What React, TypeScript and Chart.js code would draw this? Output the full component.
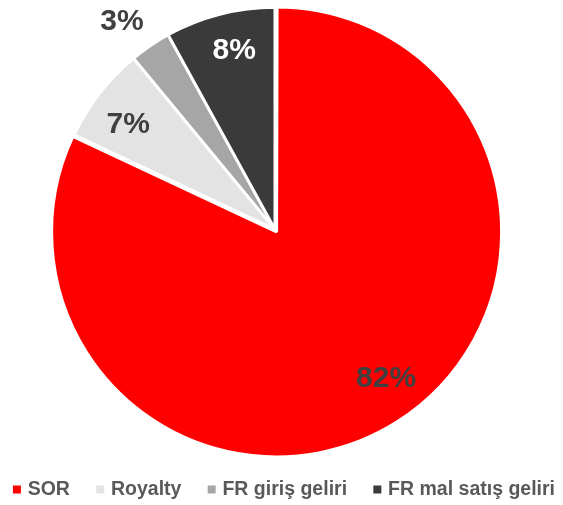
import React, { useEffect, useRef } from "react";
import { Chart, registerables } from "chart.js";

Chart.register(...registerables);

const categories = ["SOR", "Royalty", "FR giriş geliri", "FR mal satış geliri"];
const values = [82, 7, 3, 8];
const colors = ["#FF0000", "#E3E3E3", "#A6A6A6", "#3A3A3A"];
const labelColors = ["#404040", "#404040", "#404040", "#FFFFFF"];
// label placement (style): radial ratio and angular nudge in degrees
const labelRatios = [0.78, 0.815, 1.167, 0.83];
const labelNudges = [-4.8, -2, -2, 1.6];
const offsets = [12, 0, 0, 0];

const FONT = "'Liberation Sans', Arial, sans-serif";
const SHIFT = 13; // canvas is wider than the window and shifted left
const LEGEND_PAD = 29.3;

const labelPlugin = {
  id: "sliceLabels",
  afterDatasetsDraw(chart: any) {
    const ctx = chart.ctx;
    const meta = chart.getDatasetMeta(0);
    const data = chart.data.datasets[0].data as number[];
    const total = data.reduce((a, b) => a + b, 0);
    ctx.save();
    ctx.font = `bold 30px ${FONT}`;
    ctx.textAlign = "center";
    ctx.textBaseline = "middle";
    meta.data.forEach((arc: any, i: number) => {
      const p = arc.getProps(["x", "y", "startAngle", "endAngle", "outerRadius"], true);
      const mid = (p.startAngle + p.endAngle) / 2;
      const off = offsets[i] || 0;
      const cx = p.x + Math.cos(mid) * off;
      const cy = p.y + Math.sin(mid) * off;
      const a = mid + (labelNudges[i] * Math.PI) / 180;
      const r = p.outerRadius * labelRatios[i];
      const pct = Math.round((data[i] / total) * 100) + "%";
      ctx.fillStyle = labelColors[i];
      ctx.fillText(pct, cx + Math.cos(a) * r, cy + Math.sin(a) * r + 1);
    });
    ctx.restore();
  },
};

export default function App() {
  const ref = useRef<HTMLCanvasElement | null>(null);
  useEffect(() => {
    if (!ref.current) return;
    const chart = new Chart(ref.current, {
      type: "pie",
      data: {
        labels: categories,
        datasets: [
          {
            data: values,
            backgroundColor: colors,
            borderColor: "#FFFFFF",
            borderWidth: 3,
            offset: offsets,
          },
        ],
      },
      options: {
        animation: false,
        responsive: false,
        radius: 222,
        layout: {
          padding: { top: 8.25, left: -20, right: -(LEGEND_PAD - 8), bottom: -4.25 },
        },
        plugins: {
          tooltip: { enabled: false },
          legend: {
            position: "bottom",
            align: "end",
            labels: {
              usePointStyle: true,
              pointStyle: "rect",
              boxWidth: 2,
              boxHeight: 8,
              padding: LEGEND_PAD,
              color: "#595959",
              font: { family: FONT, size: 19.5, weight: "bold" },
              generateLabels: () =>
                categories.map((t, i) => ({
                  text: t,
                  fillStyle: colors[i],
                  strokeStyle: colors[i],
                  lineWidth: 0,
                  pointStyle: "rect",
                  hidden: false,
                  index: i,
                  fontColor: "#595959",
                })),
            },
          },
        },
      } as any,
      plugins: [labelPlugin],
    });
    return () => chart.destroy();
  }, []);
  return (
    <div style={{ position: "absolute", left: 0, top: 0, width: 563, height: 505, overflow: "hidden" }}>
      <canvas
        ref={ref}
        width={563 + SHIFT}
        height={505}
        style={{ display: "block", position: "absolute", left: -SHIFT, top: 0 }}
      />
    </div>
  );
}
